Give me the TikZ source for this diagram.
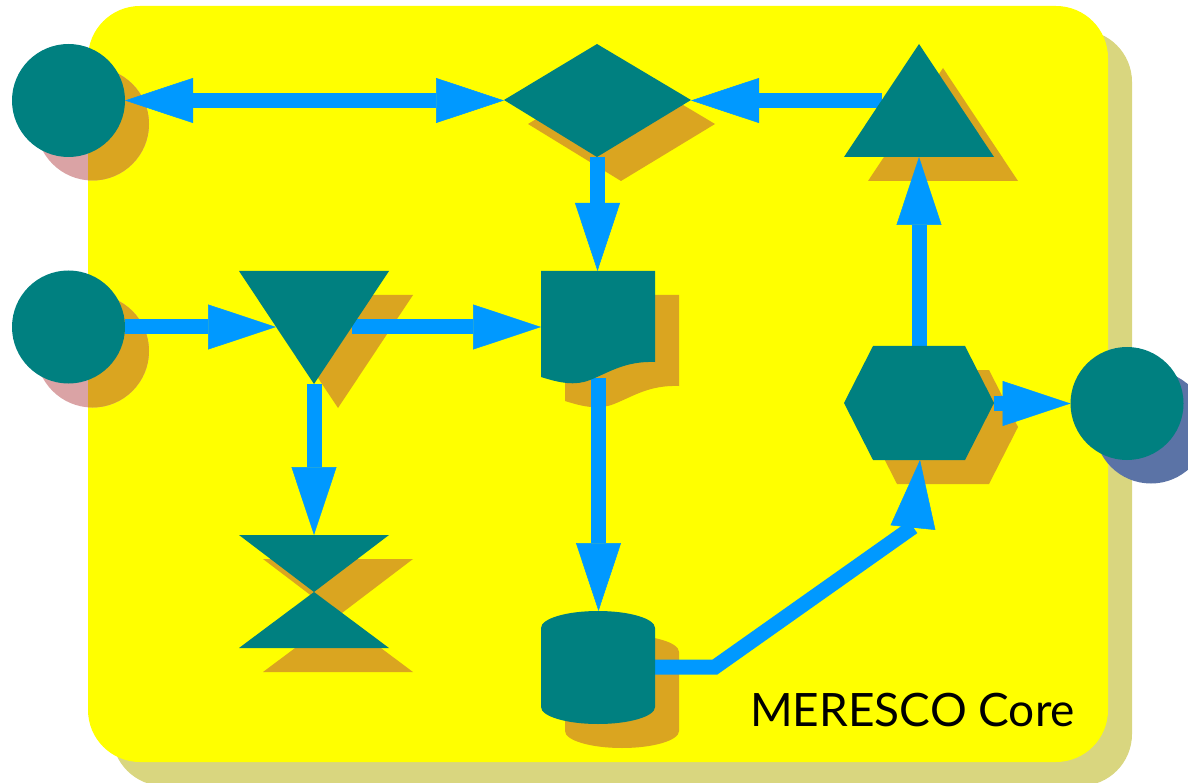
\documentclass[tikz,border=0pt]{standalone}
\usepackage{fontspec}
\setmainfont{Lato}
\usetikzlibrary{arrows.meta}
\definecolor{tealc}{HTML}{008080}
\definecolor{shad}{HTML}{DAA520}
\definecolor{pinkshad}{HTML}{DAA3A5}
\definecolor{blueshad}{HTML}{5B73A6}
\definecolor{boxshad}{HTML}{D9D67F}
\definecolor{arrowc}{HTML}{0099FF}
\definecolor{boxc}{HTML}{FFFF00}
\pgfdeclarelayer{bg}
\pgfdeclarelayer{arr}
\pgfsetlayers{bg,arr,main}
\tikzset{
  tip/.tip={Triangle[length=68pt,width=45pt,line width=0.5pt]},
  conn/.style={draw=arrowc, line width=15pt, -tip},
  conn2/.style={draw=arrowc, line width=15pt, tip-tip},
  shapefill/.style={fill=tealc},
  shadowfill/.style={fill=shad, shift={(24,24)}},
  roundnode/.style={circle, fill=tealc, minimum size=113pt, inner sep=0pt, outer sep=0pt},
  boxcorner/.style={rounded corners=52pt},
}
\newcommand\ShpDiamond[1]{\fill[#1] (504,100) -- (597,44) -- (691,100) -- (597,157) -- cycle;}
\newcommand\ShpTri[1]{\fill[#1] (919,44) -- (994,157) -- (844,157) -- cycle;}
\newcommand\ShpInvTri[1]{\fill[#1] (239,271) -- (389,271) -- (314,384) -- cycle;}
\newcommand\ShpDoc[1]{\fill[#1] (541,271) -- (655,271) -- (655,362) .. controls (625,361) and (610,372) .. (590,380) .. controls (575,386) and (560,383) .. (541,377) -- cycle;}
\newcommand\ShpHex[1]{\fill[#1] (844,403) -- (873,346) -- (965,346) -- (994,403) -- (965,460) -- (873,460) -- cycle;}
\newcommand\ShpHour[1]{\fill[#1] (239,535) -- (389,535) -- (314,592) -- (389,648) -- (239,648) -- (314,592) -- cycle;}
\newcommand\ShpCyl[1]{\fill[#1] (541,628) .. controls (541,618.6) and (566.5,611) .. (598,611) .. controls (629.5,611) and (655,618.6) .. (655,628) -- (655,707) .. controls (655,716.4) and (629.5,724) .. (598,724) .. controls (566.5,724) and (541,716.4) .. (541,707) -- cycle;}
\begin{document}
\begin{tikzpicture}[x=1pt,y=-1pt]
\useasboundingbox (0,0) rectangle (1188,783);
\clip (0,0) rectangle (1188,783);
\begin{pgfonlayer}{bg}
  % frame and its shadow
  \fill[boxshad, boxcorner] (112,30) rectangle (1132,786);
  \fill[boxc, boxcorner] (88,6) rectangle (1108,762);
  % circle shadows outside the frame
  \fill[pinkshad] (92.5,124) circle[radius=56.5pt];
  \fill[pinkshad] (92.5,351) circle[radius=56.5pt];
  \begin{scope}
    \clip[boxcorner] (88,6) rectangle (1108,762);
    \fill[shad] (92.5,124) circle[radius=56.5pt];
    \fill[shad] (92.5,351) circle[radius=56.5pt];
    \ShpDiamond{shadowfill}
    \ShpTri{shadowfill}
    \ShpInvTri{shadowfill}
    \ShpDoc{shadowfill}
    \ShpHex{shadowfill}
    \ShpHour{shadowfill}
    \ShpCyl{shadowfill}
  \end{scope}
  \fill[blueshad] (1151,427) circle[radius=56.5pt];
\end{pgfonlayer}

% shapes
\node[roundnode] (cA) at (68.5,100.5) {};
\node[roundnode] (cB) at (68.5,327) {};
\node[roundnode] (cC) at (1127,403.5) {};
\ShpDiamond{shapefill}
\ShpTri{shapefill}
\ShpInvTri{shapefill}
\ShpDoc{shapefill}
\ShpHex{shapefill}
\ShpHour{shapefill}
\ShpCyl{shapefill}

% connection points of the drawn shapes
\coordinate (dW) at (504,100.5);
\coordinate (dE) at (691,100.5);
\coordinate (dS) at (597.5,157);
\coordinate (tW) at (882,100.5);
\coordinate (tS) at (919,157);
\coordinate (iW) at (276,327);
\coordinate (iE) at (352,327);
\coordinate (iS) at (314,384);
\coordinate (docN) at (597.5,271);
\coordinate (docW) at (541,327);
\coordinate (docS) at (598.5,378);
\coordinate (hN) at (314,535);
\coordinate (cyN) at (598.5,611);
\coordinate (cyE) at (655,667);
\coordinate (hxN) at (919,346);
\coordinate (hxS) at (920,460);
\coordinate (hxE) at (994,403.5);
\coordinate (b1) at (715,667);
\coordinate (b2) at (913,527);

\begin{pgfonlayer}{arr}
  \draw[conn2] (cA.east) -- (dW);
  \draw[conn] (tW) -- (dE);
  \draw[conn] (dS) -- (docN);
  \draw[conn] (cB.east) -- (iW);
  \draw[conn] (iE) -- (docW);
  \draw[conn] (iS) -- (hN);
  \draw[conn] (docS) -- (cyN);
  \draw[conn] (cyE) -- (b1) -- (b2) -- (hxS);
  \draw[conn] (hxN) -- (tS);
  \draw[conn] (hxE) -- (cC.west);
\end{pgfonlayer}

\node[anchor=base west, inner sep=0pt, font=\fontsize{46}{50}\selectfont] (label) at (750,726) {MERESCO Core};
\end{tikzpicture}
\end{document}
